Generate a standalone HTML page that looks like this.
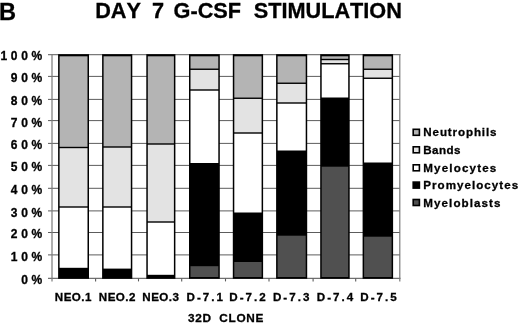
<!DOCTYPE html>
<html><head><meta charset="utf-8"><title>DAY 7 G-CSF STIMULATION</title>
<style>
html,body{margin:0;padding:0;background:#fff}
body{width:520px;height:324px;position:relative;overflow:hidden;font-family:"Liberation Sans",Arial,Helvetica,sans-serif}
.tx{position:absolute;left:0;top:0}
.tx text{font-family:"Liberation Sans",Arial,Helvetica,sans-serif;font-weight:bold;fill:#000;white-space:pre;font-kerning:none}
</style></head><body>
<svg width="520" height="324" viewBox="0 0 520 324" style="position:absolute;left:0;top:0">
<line x1="48" x2="400" y1="76.40" y2="76.40" stroke="#4a4a4a" stroke-width="0.9"/>
<line x1="48" x2="400" y1="99.40" y2="99.40" stroke="#4a4a4a" stroke-width="0.9"/>
<line x1="48" x2="400" y1="120.60" y2="120.60" stroke="#4a4a4a" stroke-width="0.9"/>
<line x1="48" x2="400" y1="143.40" y2="143.40" stroke="#4a4a4a" stroke-width="0.9"/>
<line x1="48" x2="400" y1="165.40" y2="165.40" stroke="#4a4a4a" stroke-width="0.9"/>
<line x1="48" x2="400" y1="188.30" y2="188.30" stroke="#4a4a4a" stroke-width="0.9"/>
<line x1="48" x2="400" y1="210.90" y2="210.90" stroke="#4a4a4a" stroke-width="0.9"/>
<line x1="48" x2="400" y1="232.50" y2="232.50" stroke="#4a4a4a" stroke-width="0.9"/>
<line x1="48" x2="400" y1="254.90" y2="254.90" stroke="#4a4a4a" stroke-width="0.9"/>
<line x1="48" x2="400.5" y1="54.7" y2="54.7" stroke="#7a7a7a" stroke-width="1.2"/>
<line x1="48" x2="400.5" y1="278.4" y2="278.4" stroke="#707070" stroke-width="1.1"/>
<line x1="52" x2="52" y1="54.2" y2="281.4" stroke="#7a7a7a" stroke-width="1.2"/>
<line x1="399.8" x2="399.8" y1="54.2" y2="281.4" stroke="#7a7a7a" stroke-width="1.2"/>
<line x1="95.60" x2="95.60" y1="278.5" y2="281.4" stroke="#5a5a5a" stroke-width="1.1"/>
<line x1="138.50" x2="138.50" y1="278.5" y2="281.4" stroke="#5a5a5a" stroke-width="1.1"/>
<line x1="181.70" x2="181.70" y1="278.5" y2="281.4" stroke="#5a5a5a" stroke-width="1.1"/>
<line x1="225.50" x2="225.50" y1="278.5" y2="281.4" stroke="#5a5a5a" stroke-width="1.1"/>
<line x1="269.00" x2="269.00" y1="278.5" y2="281.4" stroke="#5a5a5a" stroke-width="1.1"/>
<line x1="313.10" x2="313.10" y1="278.5" y2="281.4" stroke="#5a5a5a" stroke-width="1.1"/>
<line x1="355.70" x2="355.70" y1="278.5" y2="281.4" stroke="#5a5a5a" stroke-width="1.1"/>
<rect x="58.10" y="54.2" width="30.90" height="224.60" fill="#000"/>
<rect x="59.60" y="56.30" width="27.90" height="90.50" fill="#b4b4b4"/>
<rect x="59.60" y="148.20" width="27.90" height="58.10" fill="#e3e3e3"/>
<rect x="59.60" y="207.70" width="27.90" height="60.10" fill="#ffffff"/>
<rect x="102.10" y="54.2" width="30.20" height="224.60" fill="#000"/>
<rect x="103.60" y="56.30" width="27.20" height="90.00" fill="#b4b4b4"/>
<rect x="103.60" y="147.70" width="27.20" height="58.60" fill="#e3e3e3"/>
<rect x="103.60" y="207.70" width="27.20" height="60.90" fill="#ffffff"/>
<rect x="146.30" y="54.2" width="29.10" height="224.60" fill="#000"/>
<rect x="147.80" y="56.30" width="26.10" height="87.00" fill="#b4b4b4"/>
<rect x="147.80" y="144.70" width="26.10" height="76.60" fill="#e3e3e3"/>
<rect x="147.80" y="222.70" width="26.10" height="52.10" fill="#ffffff"/>
<rect x="189.00" y="54.2" width="30.80" height="224.60" fill="#000"/>
<rect x="190.50" y="56.30" width="27.80" height="12.25" fill="#b4b4b4"/>
<rect x="190.50" y="69.95" width="27.80" height="19.35" fill="#e3e3e3"/>
<rect x="190.50" y="90.70" width="27.80" height="72.30" fill="#ffffff"/>
<rect x="190.50" y="266.20" width="27.80" height="10.80" fill="#505050"/>
<rect x="232.80" y="54.2" width="30.30" height="224.60" fill="#000"/>
<rect x="234.30" y="56.30" width="27.30" height="41.25" fill="#b4b4b4"/>
<rect x="234.30" y="98.95" width="27.30" height="33.35" fill="#e3e3e3"/>
<rect x="234.30" y="133.70" width="27.30" height="78.80" fill="#ffffff"/>
<rect x="234.30" y="262.00" width="27.30" height="15.00" fill="#505050"/>
<rect x="276.10" y="54.2" width="31.10" height="224.60" fill="#000"/>
<rect x="277.60" y="56.30" width="28.10" height="26.25" fill="#b4b4b4"/>
<rect x="277.60" y="83.95" width="28.10" height="18.35" fill="#e3e3e3"/>
<rect x="277.60" y="103.70" width="28.10" height="46.80" fill="#ffffff"/>
<rect x="277.60" y="235.70" width="28.10" height="41.30" fill="#505050"/>
<rect x="320.20" y="54.2" width="29.50" height="224.60" fill="#000"/>
<rect x="321.70" y="56.30" width="26.50" height="2.50" fill="#b4b4b4"/>
<rect x="321.70" y="60.20" width="26.50" height="2.85" fill="#e3e3e3"/>
<rect x="321.70" y="64.45" width="26.50" height="33.05" fill="#ffffff"/>
<rect x="321.70" y="166.70" width="26.50" height="110.30" fill="#505050"/>
<rect x="362.60" y="54.2" width="30.50" height="224.60" fill="#000"/>
<rect x="364.10" y="56.30" width="27.50" height="12.25" fill="#b4b4b4"/>
<rect x="364.10" y="69.95" width="27.50" height="7.60" fill="#e3e3e3"/>
<rect x="364.10" y="78.95" width="27.50" height="83.55" fill="#ffffff"/>
<rect x="364.10" y="236.70" width="27.50" height="40.30" fill="#505050"/>
<rect x="413.2" y="129.30" width="6.2" height="6.0" fill="#b4b4b4" stroke="#000" stroke-width="1.6"/>
<rect x="413.2" y="146.80" width="6.2" height="6.0" fill="#e3e3e3" stroke="#000" stroke-width="1.6"/>
<rect x="413.2" y="164.80" width="6.2" height="6.0" fill="#ffffff" stroke="#000" stroke-width="1.6"/>
<rect x="413.2" y="182.10" width="6.2" height="6.0" fill="#000000" stroke="#000" stroke-width="1.6"/>
<rect x="413.2" y="199.50" width="6.2" height="6.0" fill="#505050" stroke="#000" stroke-width="1.6"/>
</svg>
<svg width="520" height="324" viewBox="0 0 520 324" class="tx">
<text id="tB" x="-0.9" y="19.6" font-size="23.6" letter-spacing="0" text-anchor="start" stroke="#000" stroke-width="0.3">B</text>
<text id="t1" x="95.2" y="18.3" font-size="21.7" letter-spacing="0" text-anchor="start" stroke="#000" stroke-width="0.3">DAY</text>
<text id="t2" x="151.9" y="18.3" font-size="21.7" letter-spacing="0" text-anchor="start" stroke="#000" stroke-width="0.3">7</text>
<text id="t3" x="173.6" y="18.3" font-size="21.7" letter-spacing="0" text-anchor="start" stroke="#000" stroke-width="0.3">G-CSF</text>
<text id="t4" x="253.7" y="18.3" font-size="21.7" letter-spacing="0" text-anchor="start" stroke="#000" stroke-width="0.3">STIMULATION</text>
<text id="y0" x="45.9" y="283.9" font-size="12.0" letter-spacing="3.7" text-anchor="end" stroke="#000" stroke-width="0.3">0%</text>
<text id="y1" x="45.9" y="260.9" font-size="12.0" letter-spacing="3.7" text-anchor="end" stroke="#000" stroke-width="0.3">10%</text>
<text id="y2" x="45.9" y="237.9" font-size="12.0" letter-spacing="3.7" text-anchor="end" stroke="#000" stroke-width="0.3">20%</text>
<text id="y3" x="45.9" y="216.7" font-size="12.0" letter-spacing="3.7" text-anchor="end" stroke="#000" stroke-width="0.3">30%</text>
<text id="y4" x="45.9" y="193.9" font-size="12.0" letter-spacing="3.7" text-anchor="end" stroke="#000" stroke-width="0.3">40%</text>
<text id="y5" x="45.9" y="171.3" font-size="12.0" letter-spacing="3.7" text-anchor="end" stroke="#000" stroke-width="0.3">50%</text>
<text id="y6" x="45.9" y="148.9" font-size="12.0" letter-spacing="3.7" text-anchor="end" stroke="#000" stroke-width="0.3">60%</text>
<text id="y7" x="45.9" y="126.7" font-size="12.0" letter-spacing="3.7" text-anchor="end" stroke="#000" stroke-width="0.3">70%</text>
<text id="y8" x="45.9" y="104.9" font-size="12.0" letter-spacing="3.7" text-anchor="end" stroke="#000" stroke-width="0.3">80%</text>
<text id="y9" x="45.9" y="82.3" font-size="12.0" letter-spacing="3.7" text-anchor="end" stroke="#000" stroke-width="0.3">90%</text>
<text id="y10" x="45.9" y="59.6" font-size="12.0" letter-spacing="3.7" text-anchor="end" stroke="#000" stroke-width="0.3">100%</text>
<text id="x0" x="54.8" y="301.3" font-size="11.6" letter-spacing="0.47" text-anchor="start" stroke="#000" stroke-width="0.3">NEO.1</text>
<text id="x1" x="98.8" y="301.3" font-size="11.6" letter-spacing="0.47" text-anchor="start" stroke="#000" stroke-width="0.3">NEO.2</text>
<text id="x2" x="142.3" y="301.3" font-size="11.6" letter-spacing="0.47" text-anchor="start" stroke="#000" stroke-width="0.3">NEO.3</text>
<text id="x3" x="186.6" y="301.3" font-size="11.6" letter-spacing="2.0" text-anchor="start" stroke="#000" stroke-width="0.3">D-7.1</text>
<text id="x4" x="229.3" y="301.3" font-size="11.6" letter-spacing="2.0" text-anchor="start" stroke="#000" stroke-width="0.3">D-7.2</text>
<text id="x5" x="273.0" y="301.3" font-size="11.6" letter-spacing="2.0" text-anchor="start" stroke="#000" stroke-width="0.3">D-7.3</text>
<text id="x6" x="316.8" y="301.3" font-size="11.6" letter-spacing="2.0" text-anchor="start" stroke="#000" stroke-width="0.3">D-7.4</text>
<text id="x7" x="360.3" y="301.3" font-size="11.6" letter-spacing="2.0" text-anchor="start" stroke="#000" stroke-width="0.3">D-7.5</text>
<text id="c1" x="187.9" y="322.0" font-size="11.8" letter-spacing="0.7" text-anchor="start" stroke="#000" stroke-width="0.3">32D</text>
<text id="c2" x="219.3" y="322.0" font-size="11.8" letter-spacing="0.72" text-anchor="start" stroke="#000" stroke-width="0.3">CLONE</text>
<text id="l0" x="423.3" y="135.9" font-size="11.6" letter-spacing="0.88" text-anchor="start" stroke="#000" stroke-width="0.3">Neutrophils</text>
<text id="l1" x="423.3" y="153.6" font-size="11.6" letter-spacing="0.42" text-anchor="start" stroke="#000" stroke-width="0.3">Bands</text>
<text id="l2" x="423.3" y="171.5" font-size="11.6" letter-spacing="1.16" text-anchor="start" stroke="#000" stroke-width="0.3">Myelocytes</text>
<text id="l3" x="423.3" y="189.0" font-size="11.6" letter-spacing="1.03" text-anchor="start" stroke="#000" stroke-width="0.3">Promyelocytes</text>
<text id="l4" x="423.3" y="206.6" font-size="11.6" letter-spacing="1.08" text-anchor="start" stroke="#000" stroke-width="0.3">Myeloblasts</text>
</svg>
</body></html>
